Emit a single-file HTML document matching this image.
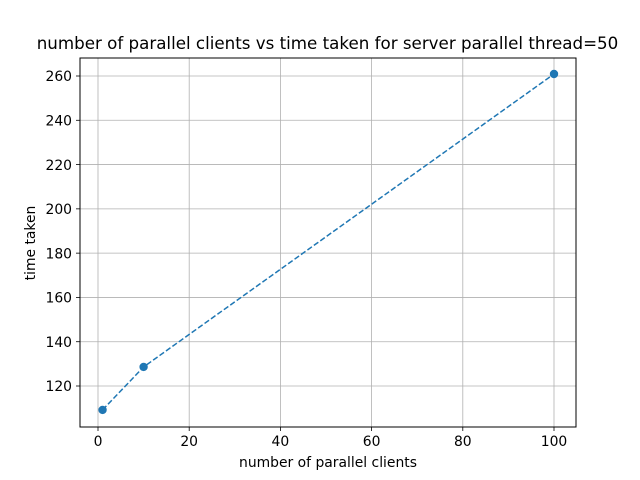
<!DOCTYPE html>
<html><head><meta charset="utf-8"><style>body{margin:0;background:#fff}svg{display:block;font-family:"DejaVu Sans","Liberation Sans",sans-serif}</style></head>
<body>
<svg id="chart" width="640" height="480">
<rect width="640" height="480" fill="#fff"/>
<text x="327.5" y="49" font-size="16.7" text-anchor="middle">number of parallel clients vs time taken for server parallel thread=50</text>
<g id="grid"></g>
<g id="ticks"></g>
<g id="series"></g>
<rect x="80" y="58" width="496" height="369" fill="none" stroke="#000" stroke-width="1"/>
<text x="328" y="467" font-size="13.9" text-anchor="middle">number of parallel clients</text>
<text transform="translate(35,243) rotate(-90)" font-size="13.9" text-anchor="middle">time taken</text>
</svg>
<script>
const clients = [1, 10, 100];
const timeTaken = [109.2, 128.6, 260.9];
const xTicks = [0, 20, 40, 60, 80, 100];
const yTicks = [120, 140, 160, 180, 200, 220, 240, 260];
const NS = "http://www.w3.org/2000/svg";
function sx(v){return 98 + (v - 0) * 4.56;}
function sy(v){return 386 - (v - 120) * (310 / 140);}
function mk(tag, attrs, parent){const e=document.createElementNS(NS,tag);for(const k in attrs)e.setAttribute(k,attrs[k]);document.getElementById(parent).appendChild(e);return e;}
xTicks.forEach(t=>{
  const x=sx(t);
  const g=mk('line',{x1:x,x2:x,y1:58,y2:427,stroke:'#b0b0b0','stroke-width':0.8},'grid');
  
  
  const tk=mk('line',{x1:x,x2:x,y1:427,y2:431,stroke:'#000','stroke-width':0.8},'ticks');
  
  
  const l=mk('text',{x:x,y:446,'font-size':13.9,'text-anchor':'middle'},'ticks');
  l.textContent=t;
  
  
});
yTicks.forEach(t=>{
  const y=sy(t);
  const g=mk('line',{x1:80,x2:576,y1:y,y2:y,stroke:'#b0b0b0','stroke-width':0.8},'grid');
  
  
  const tk=mk('line',{x1:76,x2:80,y1:y,y2:y,stroke:'#000','stroke-width':0.8},'ticks');
  
  
  const l=mk('text',{x:72,y:y+5.2,'font-size':13.9,'text-anchor':'end'},'ticks');
  l.textContent=t;
  
  
});
const pts=clients.map((c,i)=>sx(c)+','+sy(timeTaken[i])).join(' ');
const line=mk('polyline',{points:pts,fill:'none',stroke:'#1f77b4','stroke-width':1.5,'stroke-dasharray':'5.5,2.4'},'series');


clients.forEach((c,i)=>{
  const p=mk('circle',{cx:sx(c),cy:sy(timeTaken[i]),r:4.2,fill:'#1f77b4'},'series');
  
  
});
</script>
</body></html>
